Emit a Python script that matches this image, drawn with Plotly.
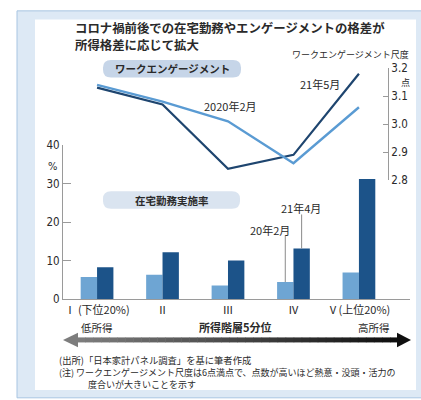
import plotly.graph_objects as go

# ---- data ----
categories = ["Ⅰ (下位20%)", "Ⅱ", "Ⅲ", "Ⅳ", "Ⅴ(上位20%)"]
telework_2020_02 = [5.8, 6.4, 3.6, 4.5, 7.0]
telework_2021_04 = [8.3, 12.2, 10.1, 13.2, 31.2]
engagement_2020_02 = [3.14, 3.08, 3.01, 2.86, 3.06]
engagement_2021_05 = [3.13, 3.07, 2.84, 2.89, 3.18]
bar_ticks = [0, 10, 20, 30, 40]
line_ticks = [2.8, 2.9, 3.0, 3.1, 3.2]
line_tick_text = ["2.8", "2.9", "3.0", "3.1", "3.2"]

W, H = 421, 400
def X(px): return px / W
def Y(py): return 1 - py / H

CJK = "Noto Sans CJK JP"
NUM = "DejaVu Sans Condensed, Liberation Sans Narrow, Roboto Condensed, Noto Sans CJK JP"
LIGHT = "#6ea5d3"
DARK = "#1c5389"
LLINE = "#5a9bd3"
DLINE = "#1e456f"
GREY = "#9a9a9a"
TXT = "#2a2a2a"

xs = list(range(len(categories)))

fig = go.Figure()
fig.add_trace(go.Bar(x=xs, y=telework_2020_02, marker_color=LIGHT, marker_line_width=0, name="20年2月"))
fig.add_trace(go.Bar(x=xs, y=telework_2021_04, marker_color=DARK, marker_line_width=0, name="21年4月"))
fig.add_trace(go.Scatter(x=xs, y=engagement_2021_05, mode="lines", line=dict(color=DLINE, width=2.2),
                         xaxis="x2", yaxis="y2", name="21年5月"))
fig.add_trace(go.Scatter(x=xs, y=engagement_2020_02, mode="lines", line=dict(color=LLINE, width=2.4),
                         xaxis="x2", yaxis="y2", name="2020年2月"))

xr = [-0.52, 4.78]
xdom = [X(63), X(410)]

def pill(x0, y0, x1, y1, r, color):
    path = (f"M {X(x0 + r)} {Y(y0)} L {X(x1 - r)} {Y(y0)} Q {X(x1)} {Y(y0)} {X(x1)} {Y(y0 + r)} "
            f"L {X(x1)} {Y(y1 - r)} Q {X(x1)} {Y(y1)} {X(x1 - r)} {Y(y1)} "
            f"L {X(x0 + r)} {Y(y1)} Q {X(x0)} {Y(y1)} {X(x0)} {Y(y1 - r)} "
            f"L {X(x0)} {Y(y0 + r)} Q {X(x0)} {Y(y0)} {X(x0 + r)} {Y(y0)} Z")
    return dict(type="path", path=path, xref="paper", yref="paper", fillcolor=color,
                line=dict(width=0), layer="below")

shapes = [
    dict(type="rect", xref="paper", yref="paper", x0=X(17), x1=X(425), y0=Y(4), y1=Y(405),
         fillcolor="#dde9f5", line=dict(color="#a8c5e2", width=1), layer="below"),
    dict(type="rect", xref="paper", yref="paper", x0=X(35), x1=X(416), y0=Y(13), y1=Y(397),
         fillcolor="white", line=dict(width=0), layer="below"),
    pill(103, 55, 241, 73, 8, "#c6d5e8"),
    pill(103, 191, 240, 209, 8, "#dae4f0"),
    # leader lines
    dict(type="line", xref="x", yref="y", x0=3 - 0.125, x1=3 - 0.125, y0=telework_2020_02[3], y1=16.5,
         line=dict(color="#8a8a8a", width=1)),
    dict(type="line", xref="x", yref="y", x0=3 + 0.125, x1=3 + 0.125, y0=telework_2021_04[3], y1=22,
         line=dict(color="#8a8a8a", width=1)),
]

# gradient arrow
ax0, ax1, ay, th = 77, 398, 345, 2.6
N = 40
def lerp(a, b, t): return int(round(a + (b - a) * t))
for i in range(N):
    t = i / (N - 1)
    g = lerp(125, 15, t)
    c = f"rgb({g},{g},{g})"
    xa = ax0 + (ax1 - ax0) * i / N
    xb = ax0 + (ax1 - ax0) * (i + 1) / N + 0.5
    shapes.append(dict(type="rect", xref="paper", yref="paper", x0=X(xa), x1=X(xb),
                       y0=Y(ay - th), y1=Y(ay + th), fillcolor=c, line=dict(width=0)))
shapes.append(dict(type="path", xref="paper", yref="paper",
                   path=f"M {X(63)} {Y(ay)} L {X(78)} {Y(ay-7.5)} L {X(78)} {Y(ay+7.5)} Z",
                   fillcolor="rgb(125,125,125)", line=dict(width=0)))
shapes.append(dict(type="path", xref="paper", yref="paper",
                   path=f"M {X(411)} {Y(ay)} L {X(397)} {Y(ay-7.5)} L {X(397)} {Y(ay+7.5)} Z",
                   fillcolor="rgb(15,15,15)", line=dict(width=0)))

def ann(text, x, y, size=10, bold=False, anchor="center", family=CJK, color=TXT, align="left"):
    return dict(text=f"<b>{text}</b>" if bold else text, x=X(x), y=Y(y), xref="paper", yref="paper",
                showarrow=False, xanchor=anchor, yanchor="middle", align=align,
                font=dict(family=family, size=size, color=color))

annotations = [
    ann("コロナ禍前後での在宅勤務やエンゲージメントの格差が", 73, 21.5, 12.4, True, "left"),
    ann("所得格差に応じて拡大", 73, 39.5, 12.4, True, "left"),
    ann("ワークエンゲージメント尺度", 411, 49, 9, False, "right"),
    ann("ワークエンゲージメント", 172, 64, 10.5, True),
    ann("在宅勤務実施率", 172, 200, 10.5, True),
    ann("2020年2月", 230, 103, 11),
    ann("21年5月", 320, 80, 11),
    ann("20年2月", 270, 231, 11),
    ann("21年4月", 301, 208, 11),
    ann("点", 405, 78, 9),
    ann("%", 52, 165, 11, False, "center", NUM),
    ann("低所得", 97, 332, 10.5),
    ann("所得階層5分位", 235, 332, 11, True),
    ann("高所得", 374, 332, 10.5),
    ann("(出所)「日本家計パネル調査」を基に筆者作成", 57, 366, 9.3, False, "left"),
    ann("(注) ワークエンゲージメント尺度は6点満点で、点数が高いほど熱意・没頭・活力の", 57, 379, 9, False, "left"),
    ann("度合いが大きいことを示す", 86, 391, 9, False, "left"),
]

fig.update_layout(
    width=W, height=H, margin=dict(l=0, r=0, t=0, b=0),
    paper_bgcolor="white", plot_bgcolor="rgba(0,0,0,0)",
    showlegend=False, barmode="group", bargap=0.5, bargroupgap=0,
    shapes=shapes, annotations=annotations, hovermode=False,
    xaxis=dict(domain=xdom, range=xr, tickvals=xs, ticktext=categories, showline=True,
               linecolor=GREY, linewidth=1, ticks="", showgrid=False, zeroline=False,
               tickfont=dict(family=CJK, size=11, color=TXT), anchor="y", fixedrange=True),
    yaxis=dict(domain=[Y(303), Y(143)], range=[0, 40], tickvals=bar_ticks, showline=True,
               linecolor=GREY, linewidth=1, ticks="inside", ticklen=8, tickcolor=GREY,
               showgrid=False, zeroline=False, anchor="x",
               tickfont=dict(family=NUM, size=11.5, color=TXT)),
    xaxis2=dict(domain=xdom, range=xr, visible=False, anchor="y2", overlaying="x"),
    yaxis2=dict(domain=[Y(179.3), Y(63.3)], range=[2.8, 3.2], tickvals=line_ticks,
                ticktext=line_tick_text, side="right", anchor="free", position=X(388),
                showline=True, linecolor=GREY, linewidth=1, ticks="inside", ticklen=5,
                tickcolor=GREY, showgrid=False, zeroline=False,
                tickfont=dict(family=NUM, size=11.5, color=TXT)),
)

fig.write_html("out.html", config={"displayModeBar": False},
               post_script="document.body.style.margin='0';document.body.style.overflow='hidden';")
